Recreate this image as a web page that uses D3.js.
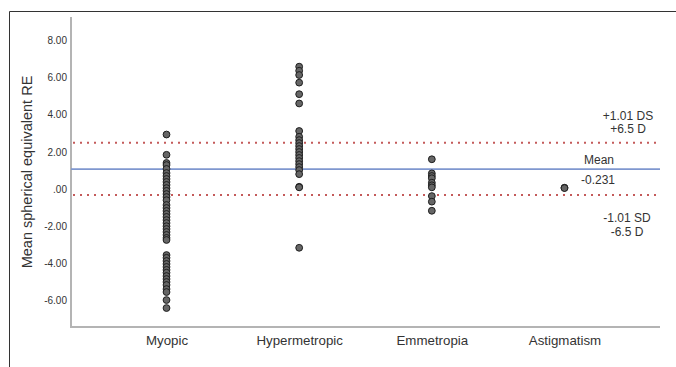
<!DOCTYPE html>
<html>
<head>
<meta charset="utf-8">
<script src="https://cdn.jsdelivr.net/npm/d3@7"></script>
<style>
  html, body { margin: 0; padding: 0; background: #fff; }
  svg { display: block; }
  text { font-family: "Liberation Sans", Arial, sans-serif; fill: #333; }
</style>
</head>
<body>
<svg id="chart" width="676" height="367"></svg>
<script>
const categories = ["Myopic", "Hypermetropic", "Emmetropia", "Astigmatism"];

const myopicValues = [2.93, 1.84, 1.40, 1.29, 1.08, 0.86, 0.70, 0.54, 0.38, 0.22, 0.05, -0.10, -0.27,
  -0.43, -0.60, -0.86, -1.02, -1.18, -1.34, -1.50, -1.67, -1.83, -2.00, -2.15, -2.31, -2.47, -2.63, -2.74,
  -3.55, -3.70, -3.87, -4.03, -4.19, -4.35, -4.50, -4.68, -4.84, -5.00, -5.16, -5.38, -5.54,
  -5.97, -6.40];
const hyperValues = [6.58, 6.36, 6.13, 5.72, 5.10, 4.60, 3.12, 2.81, 2.63, 2.47, 2.31, 2.15, 1.99,
  1.83, 1.67, 1.50, 1.34, 1.18, 1.02, 0.80, 0.12, 0.09, -3.16];
const emmetropiaValues = [1.60, 0.84, 0.70, 0.58, 0.34, 0.20, 0.09, -0.38, -0.68, -1.17];
const astigmatismValues = [0.07, 0.05];

const seriesValues = [myopicValues, hyperValues, emmetropiaValues, astigmatismValues];

const yTickValues = [8, 6, 4, 2, 0, -2, -4, -6];
const yTickLabels = ["8.00", "6.00", "4.00", "2.00", ".00", "-2.00", "-4.00", "-6.00"];

const meanValue = 1.07;
const upperValue = 2.49;
const lowerValue = -0.32;

const upperLabels = ["+1.01 DS", "+6.5 D"];
const meanLabels = ["Mean", "-0.231"];
const lowerLabels = ["-1.01 SD", "-6.5 D"];
const yTitle = "Mean spherical equivalent RE";

const svg = d3.select("#chart");

// outer frame (top and left edges)
svg.append("line").attr("x1", 9.5).attr("x2", 676).attr("y1", 11.5).attr("y2", 11.5)
  .attr("stroke", "#333").attr("stroke-width", 1);
svg.append("line").attr("x1", 9.5).attr("x2", 9.5).attr("y1", 11.5).attr("y2", 367)
  .attr("stroke", "#333").attr("stroke-width", 1);

const x0 = 71, x1 = 660, yTop = 17, yBot = 327;

const y = d3.scaleLinear().domain([-7.42, 9.25]).range([yBot, yTop]);
const x = d3.scalePoint().domain(categories).range([x0, x1]).padding(0.72);

// axes lines
svg.append("line").attr("x1", x0).attr("x2", x0).attr("y1", yTop).attr("y2", yBot + 1)
  .attr("stroke", "#b4b4b4").attr("stroke-width", 2);
svg.append("line").attr("x1", x0 - 1).attr("x2", x1).attr("y1", yBot).attr("y2", yBot)
  .attr("stroke", "#b4b4b4").attr("stroke-width", 2);

// y tick labels
const yAxis = d3.axisLeft(y).tickValues(yTickValues)
  .tickFormat((d, i) => yTickLabels[i]).tickSize(0).tickPadding(4);
const gy = svg.append("g").attr("transform", `translate(${x0},0)`).call(yAxis);
gy.select(".domain").remove();
gy.selectAll("text").style("font-size", "10px").style("fill", "#333")
  .style("font-family", '"Liberation Sans", Arial, sans-serif');

// x tick labels
const xAxis = d3.axisBottom(x).tickSize(0).tickPadding(0);
const gx = svg.append("g").attr("transform", `translate(0,${yBot})`).call(xAxis);
gx.select(".domain").remove();
gx.selectAll(".tick text")
  .attr("y", 18).attr("dy", 0)
  .style("font-size", "13.3px").style("fill", "#333")
  .style("font-family", '"Liberation Sans", Arial, sans-serif');

// y title
svg.append("text")
  .attr("transform", `translate(32,${(yTop + yBot) / 2}) rotate(-90)`)
  .attr("text-anchor", "middle")
  .style("font-size", "14.5px")
  .text(yTitle);

// reference lines
svg.append("line").attr("x1", x0).attr("x2", x1).attr("y1", y(meanValue)).attr("y2", y(meanValue))
  .attr("stroke", "#7f97cf").attr("stroke-width", 1.6);
[upperValue, lowerValue].forEach(v => {
  svg.append("line").attr("x1", x0 + 2).attr("x2", x1).attr("y1", y(v)).attr("y2", y(v))
    .attr("stroke", "#c45a5a").attr("stroke-width", 2).attr("stroke-dasharray", "2,5");
});

// points
const pts = [];
seriesValues.forEach((vals, i) => vals.forEach(v => pts.push({ c: categories[i], v })));
svg.append("g").selectAll("circle").data(pts).join("circle")
  .attr("cx", d => x(d.c)).attr("cy", d => y(d.v)).attr("r", 3.4)
  .attr("fill", "#666").attr("stroke", "#1e1e1e").attr("stroke-width", 1);

// annotations
function addLabels(lines, cx, y0, dy) {
  lines.forEach((t, i) => {
    svg.append("text").attr("x", cx).attr("y", y0 + i * dy)
      .attr("text-anchor", "middle").style("font-size", "12px").text(t);
  });
}
addLabels(upperLabels, 628, y(upperValue) - 23, 13);
svg.append("text").attr("x", 599).attr("y", y(meanValue) - 5)
  .attr("text-anchor", "middle").style("font-size", "12px").text(meanLabels[0]);
svg.append("text").attr("x", 598).attr("y", y(meanValue) + 15)
  .attr("text-anchor", "middle").style("font-size", "12px").text(meanLabels[1]);
addLabels(lowerLabels, 627, y(lowerValue) + 27, 14);
</script>
</body>
</html>
